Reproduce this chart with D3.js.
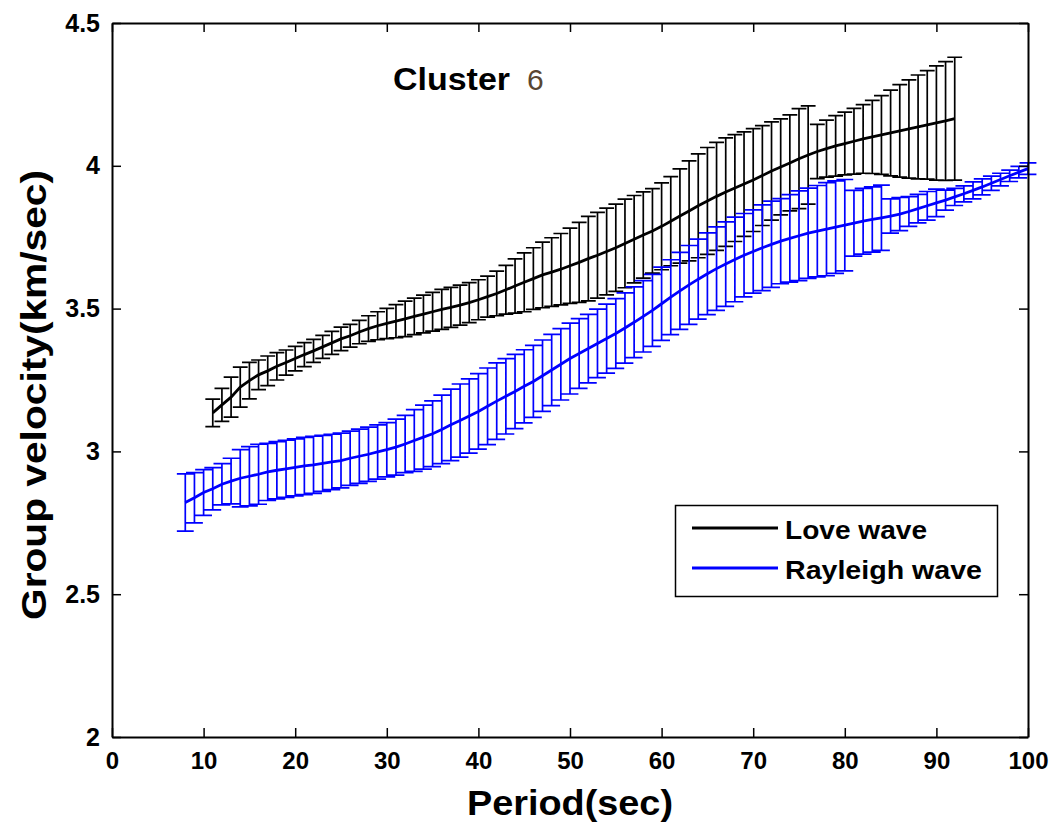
<!DOCTYPE html>
<html>
<head>
<meta charset="utf-8">
<script src="https://cdn.jsdelivr.net/npm/d3@7"></script>
<style>
  html, body { margin: 0; padding: 0; background: #fff; }
  svg { display: block; }
</style>
</head>
<body>
<svg id="chart" width="1055" height="825"></svg>
<script>
// ---------------- DATA ----------------
const lovePeriod = d3.range(11, 93); // 11..92 s
const loveMean = [
  3.135, 3.163, 3.190, 3.225, 3.248, 3.268, 3.282, 3.298, 3.311, 3.325,
  3.339, 3.352, 3.366, 3.380, 3.394, 3.405, 3.418, 3.430, 3.440, 3.448,
  3.456, 3.464, 3.473, 3.481, 3.489, 3.497, 3.504, 3.512, 3.521, 3.531,
  3.542, 3.553, 3.566, 3.579, 3.592, 3.605, 3.618, 3.628, 3.638, 3.650,
  3.662, 3.675, 3.687, 3.700, 3.713, 3.728, 3.743, 3.758, 3.772, 3.788,
  3.806, 3.824, 3.842, 3.860, 3.877, 3.893, 3.908, 3.922, 3.936, 3.950,
  3.966, 3.982, 3.996, 4.010, 4.025, 4.038, 4.050, 4.060, 4.070, 4.078,
  4.086, 4.094, 4.101, 4.108, 4.115, 4.122, 4.129, 4.136, 4.143, 4.150,
  4.157, 4.165
];
const loveErr = [
  0.048, 0.058, 0.070, 0.070, 0.064, 0.052, 0.052, 0.048, 0.044, 0.043,
  0.042, 0.040, 0.040, 0.040, 0.041, 0.040, 0.041, 0.045, 0.049, 0.053,
  0.058, 0.062, 0.064, 0.066, 0.068, 0.070, 0.070, 0.070, 0.070, 0.070,
  0.072, 0.078, 0.085, 0.095, 0.103, 0.108, 0.115, 0.120, 0.125, 0.132,
  0.140, 0.148, 0.150, 0.152, 0.153, 0.155, 0.153, 0.151, 0.148, 0.152,
  0.156, 0.165, 0.175, 0.182, 0.187, 0.189, 0.190, 0.187, 0.183, 0.180,
  0.175, 0.172, 0.168, 0.168, 0.175, 0.172, 0.095, 0.100, 0.106, 0.110,
  0.115, 0.120, 0.128, 0.138, 0.150, 0.162, 0.172, 0.182, 0.190, 0.200,
  0.208, 0.215
];

const rayPeriod = d3.range(8, 101); // 8..100 s
const rayMean = [
  2.821, 2.838, 2.856, 2.869, 2.885, 2.896, 2.906, 2.913, 2.920, 2.928,
  2.934, 2.939, 2.944, 2.949, 2.953, 2.958, 2.963, 2.968, 2.976, 2.983,
  2.990, 2.998, 3.006, 3.015, 3.026, 3.038, 3.050, 3.062, 3.077, 3.093,
  3.108, 3.124, 3.140, 3.158, 3.176, 3.193, 3.210, 3.228, 3.245, 3.265,
  3.285, 3.305, 3.325, 3.343, 3.360, 3.378, 3.395, 3.413, 3.432, 3.452,
  3.473, 3.494, 3.517, 3.540, 3.562, 3.583, 3.603, 3.622, 3.640, 3.656,
  3.672, 3.687, 3.700, 3.713, 3.725, 3.736, 3.746, 3.755, 3.764, 3.771,
  3.778, 3.785, 3.792, 3.799, 3.806, 3.812, 3.818, 3.824, 3.831, 3.840,
  3.850, 3.860, 3.870, 3.880, 3.891, 3.902, 3.914, 3.926, 3.939, 3.952,
  3.965, 3.978, 3.990
];
const rayErr = [
  0.100, 0.088, 0.080, 0.074, 0.072, 0.080, 0.100, 0.104, 0.105, 0.100,
  0.100, 0.100, 0.100, 0.100, 0.100, 0.098, 0.097, 0.096, 0.095, 0.095,
  0.095, 0.095, 0.095, 0.098, 0.100, 0.108, 0.112, 0.115, 0.120, 0.125,
  0.128, 0.130, 0.132, 0.134, 0.134, 0.132, 0.130, 0.128, 0.126, 0.125,
  0.125, 0.125, 0.124, 0.122, 0.120, 0.120, 0.121, 0.122, 0.123, 0.124,
  0.125, 0.126, 0.128, 0.131, 0.135, 0.138, 0.140, 0.143, 0.146, 0.148,
  0.148, 0.146, 0.146, 0.150, 0.151, 0.149, 0.153, 0.157, 0.158, 0.160,
  0.163, 0.162, 0.160, 0.115, 0.115, 0.114, 0.114, 0.060, 0.058, 0.052,
  0.050, 0.050, 0.048, 0.035, 0.030, 0.028, 0.030, 0.028, 0.025, 0.022,
  0.020, 0.020, 0.020
];

const xTicks = [0, 10, 20, 30, 40, 50, 60, 70, 80, 90, 100];
const yTicks = [2, 2.5, 3, 3.5, 4, 4.5];
const yTickLabels = ["2", "2.5", "3", "3.5", "4", "4.5"];

const seriesNames = ["Love wave", "Rayleigh wave"];
const seriesColors = ["#000000", "#0000ff"];

// ---------------- CHART ----------------
const svg = d3.select("#chart");
const L = 112, R = 1028, T = 23, B = 737;
const x = d3.scaleLinear().domain([0, 100]).range([L, R]);
const y = d3.scaleLinear().domain([2, 4.5]).range([B, T]);

function drawSeries(periods, means, errs, color) {
  const tee = (d3.max(periods) - d3.min(periods)) / 100;
  const g = svg.append("g");
  const pts = periods.map((p, i) => ({ p, m: means[i], e: errs[i] }));
  let path = "";
  pts.forEach(d => {
    const xs = x(d.p), yt = y(d.m + d.e), yb = y(d.m - d.e);
    const x0 = x(d.p - tee), x1 = x(d.p + tee);
    path += `M${xs},${yt}L${xs},${yb}M${x0},${yt}L${x1},${yt}M${x0},${yb}L${x1},${yb}`;
  });
  g.append("path").attr("d", path).attr("fill", "none")
    .attr("stroke", color).attr("stroke-width", 1.7);
  g.append("path")
    .datum(pts)
    .attr("fill", "none").attr("stroke", color).attr("stroke-width", 2.8)
    .attr("d", d3.line().x(d => x(d.p)).y(d => y(d.m)));
}

drawSeries(lovePeriod, loveMean, loveErr, seriesColors[0]);
drawSeries(rayPeriod, rayMean, rayErr, seriesColors[1]);

// axes (ticks inward on all sides)
const axStyle = sel => {
  sel.selectAll(".domain").attr("stroke", "#000").attr("stroke-width", 2);
  sel.selectAll(".tick line").attr("stroke", "#000").attr("stroke-width", 1.5);
};
svg.append("g").attr("transform", `translate(0,${B})`)
  .call(d3.axisBottom(x).tickValues(xTicks).tickSizeInner(-9).tickSizeOuter(0).tickPadding(14))
  .call(axStyle)
  .call(g => g.selectAll(".tick text")
    .attr("font-family", "Liberation Sans, Arial, sans-serif")
    .attr("font-weight", "bold").attr("font-size", 24).attr("fill", "#000")
    .attr("dy", "0.75em"));
svg.append("g").attr("transform", `translate(0,${T})`)
  .call(d3.axisTop(x).tickValues(xTicks).tickSizeInner(-9).tickSizeOuter(0).tickFormat(""))
  .call(axStyle);
svg.append("g").attr("transform", `translate(${L},0)`)
  .call(d3.axisLeft(y).tickValues(yTicks).tickSizeInner(-9).tickSizeOuter(0).tickPadding(12)
    .tickFormat((d, i) => yTickLabels[i]))
  .call(axStyle)
  .call(g => g.selectAll(".tick text")
    .attr("font-family", "Liberation Sans, Arial, sans-serif")
    .attr("font-weight", "bold").attr("font-size", 25).attr("fill", "#000"));
svg.append("g").attr("transform", `translate(${R},0)`)
  .call(d3.axisRight(y).tickValues(yTicks).tickSizeInner(-9).tickSizeOuter(0).tickFormat(""))
  .call(axStyle);

// axis titles
svg.append("text")
  .attr("x", (L + R) / 2).attr("y", 815)
  .attr("text-anchor", "middle")
  .attr("font-family", "Liberation Sans, Arial, sans-serif")
  .attr("font-weight", "bold").attr("font-size", 35)
  .attr("textLength", 206).attr("lengthAdjust", "spacingAndGlyphs")
  .text("Period(sec)");
svg.append("text")
  .attr("transform", `translate(46,${(T + B) / 2 + 15}) rotate(-90)`)
  .attr("text-anchor", "middle")
  .attr("font-family", "Liberation Sans, Arial, sans-serif")
  .attr("font-weight", "bold").attr("font-size", 35)
  .attr("textLength", 450).attr("lengthAdjust", "spacingAndGlyphs")
  .text("Group velocity(km/sec)");

// annotation
svg.append("text")
  .attr("x", 393).attr("y", 90)
  .attr("font-family", "Liberation Sans, Arial, sans-serif")
  .attr("font-size", 31).attr("font-weight", "bold").attr("fill", "#000")
  .attr("textLength", 117).attr("lengthAdjust", "spacingAndGlyphs")
  .text("Cluster");
svg.append("text")
  .attr("x", 527).attr("y", 90)
  .attr("font-family", "Liberation Sans, Arial, sans-serif")
  .attr("font-size", 30).attr("fill", "#5a4632")
  .text("6");

// legend
const lg = svg.append("g");
lg.append("rect").attr("x", 675.5).attr("y", 505.5).attr("width", 322).attr("height", 91)
  .attr("fill", "#fff").attr("stroke", "#000").attr("stroke-width", 1.5);
seriesNames.forEach((name, i) => {
  const yy = 528 + i * 40;
  lg.append("line").attr("x1", 692).attr("x2", 778).attr("y1", yy).attr("y2", yy)
    .attr("stroke", seriesColors[i]).attr("stroke-width", 3);
  lg.append("text").attr("x", 785).attr("y", yy + 11)
    .attr("font-family", "Liberation Sans, Arial, sans-serif")
    .attr("font-weight", "bold").attr("font-size", 25)
    .attr("textLength", i === 0 ? 142 : 197).attr("lengthAdjust", "spacingAndGlyphs")
    .text(name);
});
</script>
</body>
</html>
